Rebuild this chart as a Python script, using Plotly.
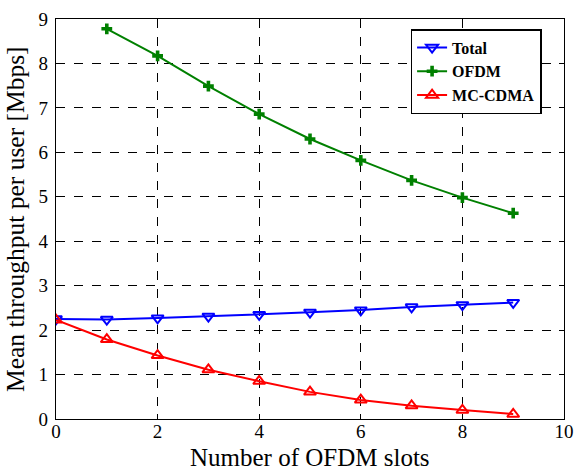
import plotly.graph_objects as go

slots_total = [0, 1, 2, 3, 4, 5, 6, 7, 8, 9]
total = [2.25, 2.24, 2.27, 2.31, 2.35, 2.40, 2.45, 2.52, 2.57, 2.62]
slots_ofdm = [1, 2, 3, 4, 5, 6, 7, 8, 9]
ofdm = [8.78, 8.17, 7.49, 6.86, 6.30, 5.82, 5.37, 4.98, 4.63]
slots_mc = [0, 1, 2, 3, 4, 5, 6, 7, 8, 9]
mccdma = [2.23, 1.79, 1.43, 1.11, 0.85, 0.61, 0.43, 0.30, 0.20, 0.11]

x_title = "Number of OFDM slots"
y_title = "Mean throughput per user [Mbps]"

font_family = "'Liberation Serif', 'Times New Roman', Times, serif"

fig = go.Figure()
fig.add_trace(go.Scatter(
    x=slots_total, y=total, name="Total", mode="lines+markers",
    line=dict(color="#0000ff", width=2),
    marker=dict(symbol="triangle-down-open", size=10.5, color="#0000ff", line=dict(width=2)),
))
fig.add_trace(go.Scatter(
    x=slots_ofdm, y=ofdm, name="OFDM", mode="lines+markers",
    line=dict(color="#008000", width=2),
    marker=dict(symbol="cross", size=9, color="#008000", line=dict(width=0)),
))
fig.add_trace(go.Scatter(
    x=slots_mc, y=mccdma, name="MC-CDMA", mode="lines+markers",
    line=dict(color="#ff0000", width=2),
    marker=dict(symbol="triangle-up-open", size=10.5, color="#ff0000", line=dict(width=2)),
))

axis_common = dict(
    showline=True, linecolor="black", linewidth=1.2, mirror="ticks",
    ticks="inside", ticklen=5, tickcolor="black",
    showgrid=True, gridcolor="black", griddash="dash", gridwidth=1,
    zeroline=False, automargin=False,
    tickfont=dict(family=font_family, size=19, color="black"),
)

fig.update_layout(
    width=574, height=470,
    margin=dict(l=56, r=10, t=19, b=51),
    paper_bgcolor="white", plot_bgcolor="white",
    font=dict(family=font_family, color="black"),
    xaxis=dict(range=[0, 10], dtick=2, ticklabelstandoff=-5, **axis_common),
    yaxis=dict(range=[0, 9], dtick=1, ticklabelstandoff=3, **axis_common),
    legend=dict(
        x=0.698, y=0.975, xanchor="left", yanchor="top",
        bgcolor="white", bordercolor="black", borderwidth=1.5,
        font=dict(family=font_family, size=16, color="black", weight="bold"),
        tracegroupgap=0, itemwidth=30,
    ),
    showlegend=True,
    annotations=[
        dict(text=x_title, xref="paper", yref="paper", x=0.5, y=0,
             xanchor="center", yanchor="bottom", yshift=-53, showarrow=False,
             borderpad=0,
             font=dict(family=font_family, size=25, color="black")),
        dict(text=y_title, xref="paper", yref="paper", x=0, y=0.5,
             xanchor="center", yanchor="middle", xshift=-41, textangle=-90, showarrow=False,
             font=dict(family=font_family, size=25.5, color="black")),
    ],
)

fig.write_html("out.html")
